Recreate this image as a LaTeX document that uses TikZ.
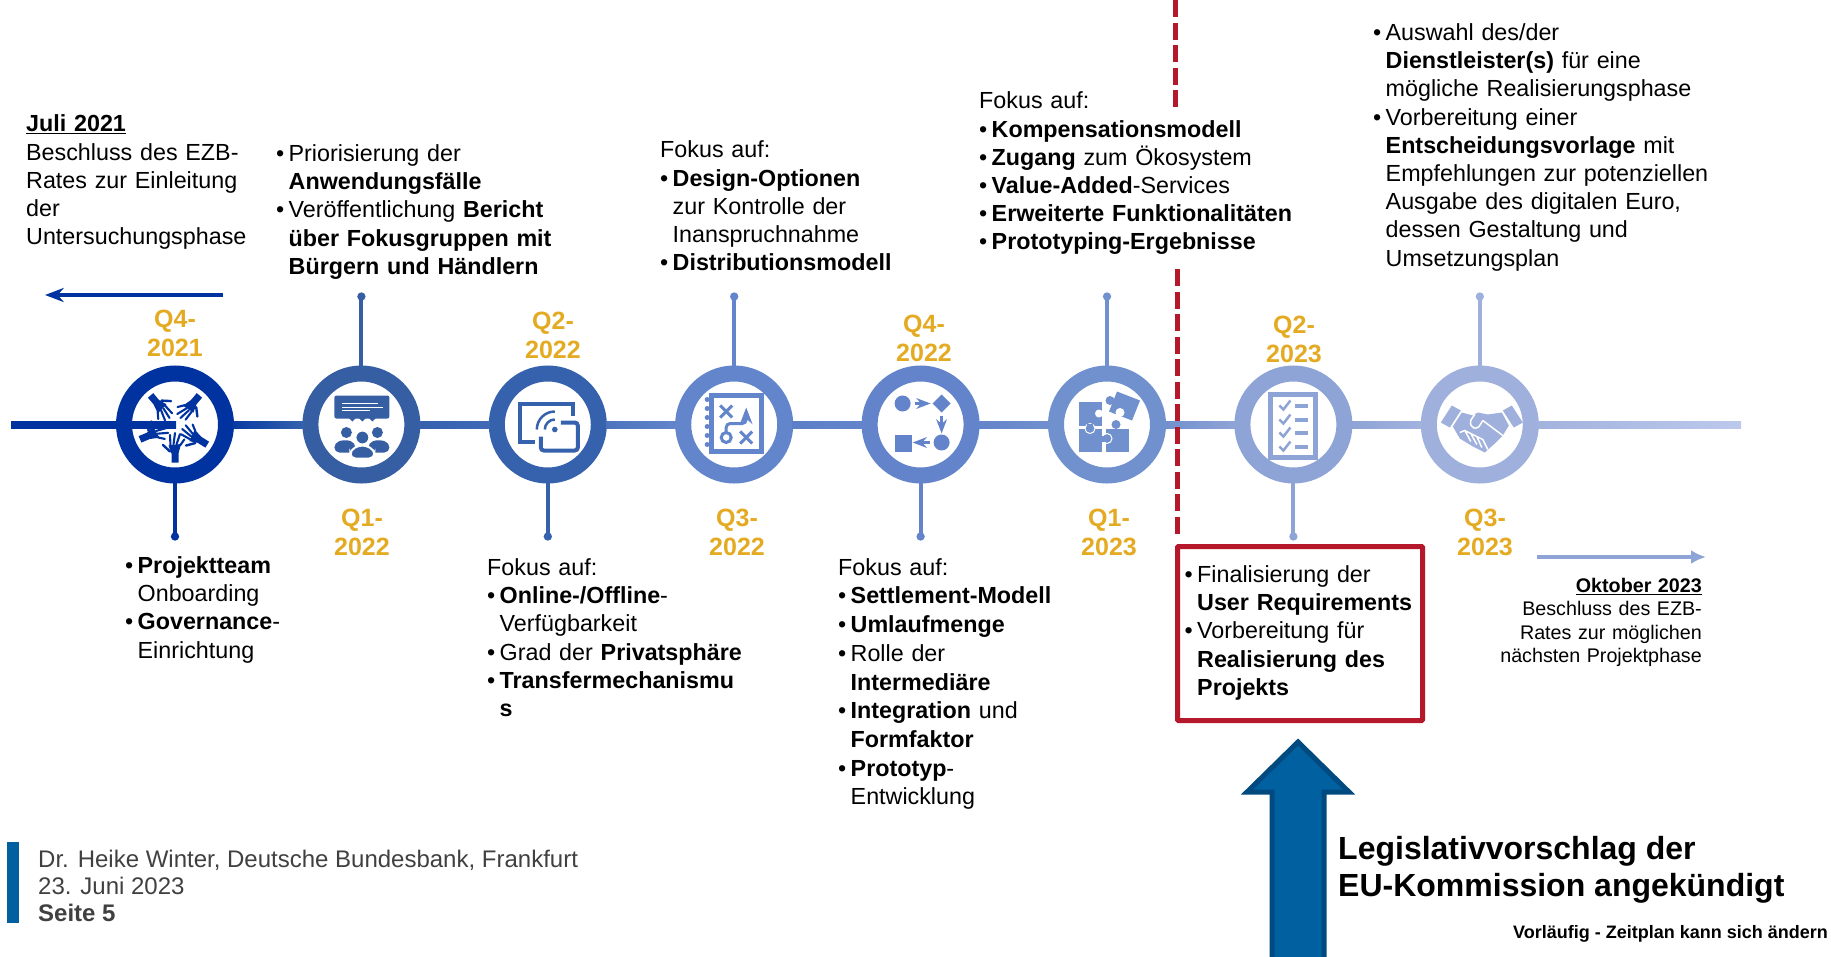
\documentclass[tikz,border=0pt]{standalone}
\usepackage{fontspec}
\setmainfont{Liberation Sans}
\usepackage{tikz}
\usetikzlibrary{
    arrows.meta,
    calc,
    positioning
}
\definecolor{ringa}{HTML}{0033A0}
\definecolor{ringb}{HTML}{365FA3}
\definecolor{ringc}{HTML}{3561AD}
\definecolor{ringd}{HTML}{6285CC}
\definecolor{ringe}{HTML}{6384CA}
\definecolor{ringf}{HTML}{7090CE}
\definecolor{ringg}{HTML}{8FA4D6}
\definecolor{ringh}{HTML}{9FB0DC}
\definecolor{lineend}{HTML}{BCC9EC}
\definecolor{gold}{HTML}{E3AA22}
\definecolor{redmark}{HTML}{B5182B}
\definecolor{bigblue}{HTML}{0060A0}
\definecolor{bigedge}{HTML}{004A80}
\definecolor{greytext}{HTML}{404040}
\newcommand{\itm}{\par\leftskip=12.5pt\noindent\strut\llap{\makebox[12.5pt][l]{•}}\ignorespaces}
\tikzset{
    every picture/.style = {
        > = Stealth,
        x = 1pt,
        y = -1pt
    },
    hub/.style = {
        circle,
        draw = #1,
        fill = white,
        line width = 16pt,
        minimum size = 102pt,
        inner sep = 0pt
    },
    stem/.style = {
        line width = 4pt,
        -{Circle[length = 8pt, width = 8pt]},
        shorten <= -1pt,
        #1
    },
    quarter/.style = {
        font = \fontsize{25}{29}\selectfont\bfseries,
        text = gold,
        align = center,
        inner sep = 0pt
    },
    txt/.style = {
        font = \fontsize{23.3}{28.2}\selectfont,
        anchor = north west,
        align = left,
        inner sep = 0pt,
        text width = #1
    },
    small/.style = {
        font = \fontsize{19.7}{23.4}\selectfont,
        anchor = north east,
        align = right,
        inner sep = 0pt,
        text width = #1
    },
    redbox/.style = {
        draw = redmark,
        line width = 5pt,
        rounded corners = 1pt,
        anchor = north west,
        minimum width = 245pt,
        minimum height = 174pt
    },
    dashmark/.style = {
        draw = redmark,
        line width = 5pt,
        dash pattern = on 17pt off 5.5pt
    },
    pics/hand/.style = {
        code = {
            \fill (-3.5,38) -- (-3.5,29) -- (-6.5,21) -- (6,19.5) -- (3.5,29) -- (3.5,38) -- cycle;
            \draw[line width = 2.1pt, line cap = round] (-4.5,21) -- (-5,10.5) (-1.5,20) -- (0,8.5)
                (1.5,20) -- (5,9.5) (5,21) -- (9.3,15);
            \draw[line width = 2.4pt, line cap = round] (-5,27) -- (-12,20.5);
        }
    }
}

\begin{document}
\begin{tikzpicture}[node distance = 186.4pt]
    \useasboundingbox (0,0) rectangle (1831,956);

    \node[hub = ringa] (hub1) at (175,424.5) {};
    \node[hub = ringb, right of = hub1] (hub2) {};
    \node[hub = ringc, right of = hub2] (hub3) {};
    \node[hub = ringd, right of = hub3] (hub4) {};
    \node[hub = ringe, right of = hub4] (hub5) {};
    \node[hub = ringf, right of = hub5] (hub6) {};
    \node[hub = ringg, right of = hub6] (hub7) {};
    \node[hub = ringh, right of = hub7] (hub8) {};
    \coordinate (linestart) at (12,424.5);
    \coordinate (linestop) at (1740,424.5);

    % timeline
    \foreach \a/\b/\ca/\cb in {linestart/hub1/ringa/ringa, hub1.east/hub2.west/ringa!85!ringc/ringc,
        hub2.east/hub3.west/ringc/ringc!75!ringd, hub3.east/hub4.west/ringc!50!ringd/ringd,
        hub4.east/hub5.west/ringd!85!ringc/ringe, hub5.east/hub6.west/ringe/ringf,
        hub6.east/hub7.west/ringf/ringg, hub7.east/hub8.west/ringg/ringh!90!lineend,
        hub8.east/linestop/ringh!90!lineend/lineend}
        \path[left color = \ca, right color = \cb] ($(\a)+(-1,-3.5)$) rectangle ($(\b)+(1,3.5)$);

    % stems
    \foreach \n/\c in {2/ringb, 4/ringd, 6/ringf, 8/ringh} {
        \coordinate[above = 73pt of hub\n] (stem\n);
        \draw[stem = \c] (hub\n.north) -- (stem\n);
    }
    \foreach \n/\c in {1/ringa, 3/ringc, 5/ringe, 7/ringg} {
        \coordinate[below = 57pt of hub\n] (stem\n);
        \draw[stem = \c] (hub\n.south) -- (stem\n);
    }

    % icons
    \begin{scope}[shift = {(hub1)}, color = ringa]
        \foreach \rot in {0,-67,220,140,58}
            \pic[rotate = \rot] at (0,0) {hand};
    \end{scope}
    \begin{scope}[shift = {(hub2)}, color = ringb]
        \fill[rounded corners = 2pt] (-27,-29) rectangle (28,-6);
        \fill (-13,-7) -- (-9,-3) -- (-5,-7) (-3,-7) -- (1,-3) -- (5,-7) (7,-7) -- (11,-3) -- (15,-7);
        \draw[white, line width = 1.5pt] (-19,-21) -- (17,-21) (-19,-17) -- (22,-17) (-19,-14) -- (9,-14);
        \fill (-15,8) circle (5.5pt) (16,8) circle (5.5pt);
        \fill[rounded corners = 5pt] (-27,28) -- (-27,18) -- (-16,15) -- (-6,18) -- (-6,28) -- cycle;
        \fill[rounded corners = 5pt] (7,28) -- (7,18) -- (17,15) -- (28,18) -- (28,28) -- cycle;
        \draw[white, line width = 2pt, fill = ringb, rounded corners = 5pt] (-11,34) -- (-11,25) -- (1,20) -- (13,25) -- (13,34) -- cycle;
        \draw[white, line width = 1pt, fill = ringb] (1,13) circle (6.5pt);
    \end{scope}
    \begin{scope}[shift = {(hub3)}, color = ringc]
        \draw[line width = 4pt] (25,-9) -- (25,-21) -- (-28,-21) -- (-28,17) -- (-13,17);
        \draw[line width = 4pt, rounded corners = 3pt] (13,-2) -- (30,-2) -- (30,26) -- (-7,26) -- (-7,12);
        \fill (7,5) circle (2.8pt);
        \draw[line width = 2.5pt] (-3,5) arc (180:90:10pt) (-11,5) arc (180:90:18pt);
    \end{scope}
    \begin{scope}[shift = {(hub4)}, color = ringd]
        \draw[line width = 5pt] (-23,-29) rectangle (27,27);
        \foreach \yy in {-25,-16,-7,2,11,20}
            \fill (-27,\yy) circle (2.5pt);
        \draw[line width = 3pt] (-14,-19) -- (-2,-7) (-14,-7) -- (-2,-19)
            (6,7) -- (18,19) (6,19) -- (18,7);
        \draw[line width = 3pt] (-8,13) circle (5pt);
        \draw[line width = 3pt, rounded corners = 4pt, ->] (-8,8) -- (-8,-1) -- (12,-1) -- (12,-17);
    \end{scope}
    \begin{scope}[shift = {(hub5)}, color = ringe]
        \fill (-18,-21) circle (8pt) (21,18) circle (8pt);
        \fill (21,-30) -- (30,-21) -- (21,-12) -- (12,-21) -- cycle;
        \fill (-26,10) rectangle (-9,27);
        \draw[line width = 2.5pt, ->] (-6,-21) -- (10,-21);
        \draw[line width = 2.5pt, ->] (21,-9) -- (21,9);
        \draw[line width = 2.5pt, ->] (9,18) -- (-8,18);
    \end{scope}
    \begin{scope}[shift = {(hub6)}, color = ringf]
        \fill (-28,-23) rectangle (-5,1);
        \fill[white] (-8,-11) circle (4pt);
        \fill (-28,4) rectangle (-5,27);
        \fill (-1,4) rectangle (22,27);
        \fill (10,-33) -- (33,-24) -- (25,-4) -- (2,-13) -- cycle;
        \fill (3,-24) circle (4.5pt);
        \fill[white] (13,-12) circle (4.5pt);
        \draw[white, line width = 1pt, fill = ringf] (-17,4) circle (5pt);
        \fill (-20,-1) rectangle (-14,4);
        \fill (9,0) circle (4.5pt);
        \draw[white, line width = 1pt, fill = ringf] (0,14) circle (5pt);
        \fill (-6,11) rectangle (-3,17);
    \end{scope}
    \begin{scope}[shift = {(hub7)}, color = ringg]
        \draw[line width = 5pt] (-22.5,-30.5) rectangle (22.5,32.5);
        \foreach \yy in {-19,-5,8,22} {
            \draw[line width = 2.5pt] (-14,\yy) -- (-10,\yy+4) -- (-3,\yy-5);
            \draw[line width = 4pt] (2,\yy) -- (15,\yy);
        }
    \end{scope}
    \begin{scope}[shift = {(hub8)}, color = ringh]
        \fill (-28,-19) -- (-19,-14) -- (-30,3) -- (-39,-2) -- cycle;
        \fill (32,-19) -- (23,-14) -- (34,3) -- (43,-2) -- cycle;
        \fill (-18,-12) -- (-7,-9) -- (-2,-12) -- (8,-10) -- (22,-12) -- (29,1) -- (23,11) -- (15,19)
            -- (5,28) -- (-7,22) -- (-20,14) -- (-27,2) -- cycle;
        \draw[white, line width = 1.5pt] (3,-4) -- (23,11);
        \draw[white, line width = 1.5pt, rounded corners = 2pt] (-5,-10) -- (-10,-3) -- (-8,3) -- (-2,4) -- (3,-4);
        \draw[white, line width = 1.5pt] (-20,8) -- (-15,6) -- (-9,9) -- (-3,12) -- (3,15)
            (-15,6) -- (-9,17) (-9,9) -- (-3,20) (-3,12) -- (2,23) (3,15) -- (8,25);
    \end{scope}

    % quarters
    \node[quarter] (q4a) at (175,333) {Q4-\\2021};
    \node[quarter] (q1b) at (362,532) {Q1-\\2022};
    \node[quarter] (q2b) at (553,335) {Q2-\\2022};
    \node[quarter] (q3b) at (737,532) {Q3-\\2022};
    \node[quarter] (q4b) at (924,338) {Q4-\\2022};
    \node[quarter] (q1c) at (1109,532) {Q1-\\2023};
    \node[quarter] (q2c) at (1294,339.5) {Q2-\\2023};
    \node[quarter] (q3c) at (1485,532.5) {Q3-\\2023};

    % red marks
    \coordinate (reda) at (1175,0);
    \coordinate (redb) at (1175,107);
    \coordinate (redc) at (1177,269);
    \coordinate (redd) at (1177,538);
    \draw[dashmark] (reda) -- (redb);
    \draw[dashmark] (redc) -- (redd);

    % arrows
    \coordinate (lefta) at (223,295);
    \coordinate (leftb) at (45,295);
    \draw[->, ringa, line width = 3.5pt] (lefta) -- (leftb);
    \coordinate (righta) at (1537,557);
    \coordinate (rightb) at (1706,557);
    \draw[-{Latex[length = 15pt, width = 14pt]}, ringg, line width = 3.5pt] (righta) -- (rightb);
    \draw[fill = bigblue, draw = bigedge, line width = 5pt, miter limit = 10]
        (1298,742) -- (1349,792) -- (1324,792) -- (1324,970) -- (1272,970) -- (1272,792) -- (1247,792) -- cycle;

    % texts
    \node[txt = 240pt] (juli) at (26,112) {\strut\underline{\textbf{Juli 2021}}\\Beschluss des EZB-\\Rates zur Einleitung\\der\\Untersuchungsphase};
    \node[txt = 290pt] (prio) at (276,133) {\itm Priorisierung der\\\textbf{Anwendungsfälle}\itm Veröffentlichung \textbf{Bericht}\\\textbf{über Fokusgruppen mit}\\\textbf{Bürgern und Händlern}\par};
    \node[txt = 180pt] (team) at (125,545) {\itm\textbf{Projektteam}\\Onboarding\itm\textbf{Governance}-\\Einrichtung\par};
    \node[txt = 265pt] (online) at (487,555.5) {\strut Fokus auf:\itm\textbf{Online-/Offline}-\\Verfügbarkeit\itm Grad der \textbf{Privatsphäre}\itm\textbf{Transfermechanismu}\\\textbf{s}\par};
    \node[txt = 250pt] (design) at (660,138) {\strut Fokus auf:\itm\textbf{Design-Optionen}\\zur Kontrolle der\\Inanspruchnahme\itm\textbf{Distributionsmodell}\par};
    \node[txt = 250pt, font = \fontsize{23.3}{28.7}\selectfont] (settle) at (838,555) {\strut Fokus auf:\itm\textbf{Settlement-Modell}\itm\textbf{Umlaufmenge}\itm Rolle der\\\textbf{Intermediäre}\itm\textbf{Integration} und\\\textbf{Formfaktor}\itm\textbf{Prototyp}-\\Entwicklung\par};
    \node[txt = 330pt] (komp) at (979,89) {\strut Fokus auf:\itm\textbf{Kompensationsmodell}\itm\textbf{Zugang} zum Ökosystem\itm\textbf{Value-Added}-Services\itm\textbf{Erweiterte Funktionalitäten}\itm\textbf{Prototyping-Ergebnisse}\par};
    \node[txt = 370pt] (auswahl) at (1373,12) {\itm Auswahl des/der\\\textbf{Dienstleister(s)} für eine\\mögliche Realisierungsphase\itm Vorbereitung einer\\\textbf{Entscheidungsvorlage} mit\\Empfehlungen zur potenziellen\\Ausgabe des digitalen Euro,\\dessen Gestaltung und\\Umsetzungsplan\par};
    \node[redbox] (finalbox) at (1175,544) {};
    \node[txt = 230pt] (final) at (1184.5,554) {\itm Finalisierung der\\\textbf{User Requirements}\itm Vorbereitung für\\\textbf{Realisierung des}\\\textbf{Projekts}\par};
    \node[small = 220pt] (oktober) at (1702,576) {\strut\underline{\textbf{Oktober 2023}}\\Beschluss des EZB-\\Rates zur möglichen\\nächsten Projektphase};

    \node[font = \fontsize{32}{37.4}\selectfont\bfseries, align = left, anchor = north west, inner sep = 0pt] (legis) at (1338,836) {Legislativvorschlag der\\EU-Kommission angekündigt};
    \node[font = \fontsize{18}{21}\selectfont\bfseries, anchor = east, inner sep = 0pt] (zeitplan) at (1828,933.5) {Vorläufig - Zeitplan kann sich ändern};

    % footer
    \fill[bigblue] (7,842) rectangle (19,923);
    \node[font = \fontsize{24}{26.9}\selectfont, text = greytext, align = left, anchor = north west, inner sep = 0pt] (footer) at (38,850) {Dr. Heike Winter, Deutsche Bundesbank, Frankfurt\\23. Juni 2023\\\textbf{Seite 5}};
\end{tikzpicture}
\end{document}
